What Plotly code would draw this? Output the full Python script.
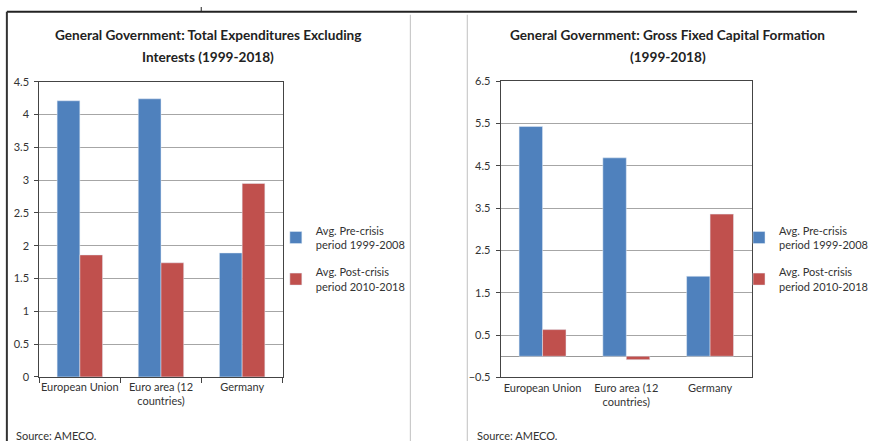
import plotly.graph_objects as go

# data
countries = ["European Union", "Euro area (12<br>countries)", "Germany"]
series_names = ["Avg. Pre-crisis<br>period 1999-2008", "Avg. Post-crisis<br>period 2010-2018"]

exp_pre = [4.21, 4.24, 1.89]
exp_post = [1.86, 1.74, 2.95]

gfcf_pre = [5.43, 4.69, 1.89]
gfcf_post = [0.63, -0.08, 3.36]

title_left = ["General Government: Total Expenditures Excluding", "Interests (1999-2018)"]
title_right = ["General Government: Gross Fixed Capital Formation", "(1999-2018)"]
source_text = "Source: AMECO."

BLUE = "#4F81BD"
RED = "#C0504D"
FONT = "Lato, 'Open Sans', sans-serif"
W, H = 873, 447


def px_x(x):
    return x / W


def px_y(y):
    return 1 - y / H


fig = go.Figure()

fig.add_trace(go.Bar(x=countries, y=exp_pre, name=series_names[0], marker_color=BLUE,
                     xaxis="x", yaxis="y", legend="legend", legendgroup="a"))
fig.add_trace(go.Bar(x=countries, y=exp_post, name=series_names[1], marker_color=RED,
                     xaxis="x", yaxis="y", legend="legend", legendgroup="b"))
fig.add_trace(go.Bar(x=countries, y=gfcf_pre, name=series_names[0], marker_color=BLUE,
                     xaxis="x2", yaxis="y2", legend="legend2", legendgroup="c"))
fig.add_trace(go.Bar(x=countries, y=gfcf_post, name=series_names[1], marker_color=RED,
                     xaxis="x2", yaxis="y2", legend="legend2", legendgroup="d"))

axis_font = dict(family=FONT, size=11, color="#333333")
grid = "#a6a6a6"

fig.update_layout(
    width=W, height=H, autosize=False,
    margin=dict(l=0, r=0, t=0, b=0),
    paper_bgcolor="white",
    plot_bgcolor="white",
    font=dict(family=FONT, size=11, color="#333333"),
    barmode="group",
    bargap=0.44,
    bargroupgap=0,
    xaxis=dict(
        domain=[px_x(40), px_x(288)], anchor="y",
        showline=True, linecolor="#444444", linewidth=1, mirror=True,
        ticks="outside", tickson="boundaries", ticklen=5, tickcolor="#444444",
        tickfont=axis_font, tickangle=0, fixedrange=True,
    ),
    yaxis=dict(
        domain=[px_y(381), px_y(77)], anchor="x",
        range=[0, 4.5], tick0=0, dtick=0.5,
        showgrid=True, gridcolor=grid, gridwidth=1,
        showline=True, linecolor="#444444", linewidth=1, mirror=True,
        ticks="outside", ticklen=4, tickcolor="#444444",
        ticklabelstandoff=3,
        tickfont=axis_font, zeroline=False,
    ),
    xaxis2=dict(
        domain=[px_x(510), px_x(766)], anchor="y2",
        showline=True, linecolor="#444444", linewidth=1, mirror=True,
        ticks="", tickfont=axis_font, tickangle=0,
    ),
    yaxis2=dict(
        domain=[px_y(381.5), px_y(76.5)], anchor="x2",
        range=[-0.5, 6.5], tick0=-0.5, dtick=1,
        showgrid=True, gridcolor=grid, gridwidth=1,
        showline=True, linecolor="#444444", linewidth=1, mirror=True,
        ticks="outside", ticklen=4, tickcolor="#444444",
        ticklabelstandoff=3,
        tickfont=axis_font, zeroline=True, zerolinecolor="#999999", zerolinewidth=1,
    ),
    legend=dict(
        x=px_x(281), y=px_y(216), xanchor="left", yanchor="top",
        font=dict(family=FONT, size=11, color="#333333"),
        tracegroupgap=10, itemwidth=30, bgcolor="rgba(0,0,0,0)",
    ),
    legend2=dict(
        x=px_x(753), y=px_y(216), xanchor="left", yanchor="top",
        font=dict(family=FONT, size=11, color="#333333"),
        tracegroupgap=10, itemwidth=30, bgcolor="rgba(0,0,0,0)",
    ),
)

# titles, one annotation per line
for line, ypix in zip(title_left, [29, 51]):
    fig.add_annotation(text="<b>%s</b>" % line, x=px_x(212), y=px_y(ypix),
                       xref="paper", yref="paper", xanchor="center", yanchor="middle",
                       showarrow=False, font=dict(family=FONT, size=13.6, color="#222222"))
for line, ypix in zip(title_right, [29, 51]):
    fig.add_annotation(text="<b>%s</b>" % line, x=px_x(680), y=px_y(ypix),
                       xref="paper", yref="paper", xanchor="center", yanchor="middle",
                       showarrow=False, font=dict(family=FONT, size=13.6, color="#222222"))

for xpix in [14, 484]:
    fig.add_annotation(text=source_text, x=px_x(xpix), y=px_y(441),
                       xref="paper", yref="paper", xanchor="left", yanchor="middle",
                       showarrow=False, font=dict(family=FONT, size=11, color="#333333"))

# panel frame lines
frame = [
    dict(x0=7, y0=5, x1=W, y1=5, color="#222222", width=2),
    dict(x0=205, y0=0, x1=205, y1=5, color="#222222", width=1),
    dict(x0=7, y0=5, x1=7, y1=H, color="#333333", width=2),
    dict(x0=418, y0=8, x1=418, y1=H, color="#c0c0c0", width=1),
    dict(x0=476, y0=8, x1=476, y1=H, color="#c0c0c0", width=1),
]
for f in frame:
    fig.add_shape(type="line", xref="paper", yref="paper",
                  x0=px_x(f["x0"]), y0=px_y(f["y0"]), x1=px_x(f["x1"]), y1=px_y(f["y1"]),
                  line=dict(color=f["color"], width=f["width"]))

fig.write_html(
    "out.html",
    config={"responsive": False, "displayModeBar": False},
    default_width="873px", default_height="447px",
    post_script=(
        "document.body.style.margin='0';"
        "document.body.style.overflow='hidden';"
        "document.documentElement.style.overflow='hidden';"
    ),
)
